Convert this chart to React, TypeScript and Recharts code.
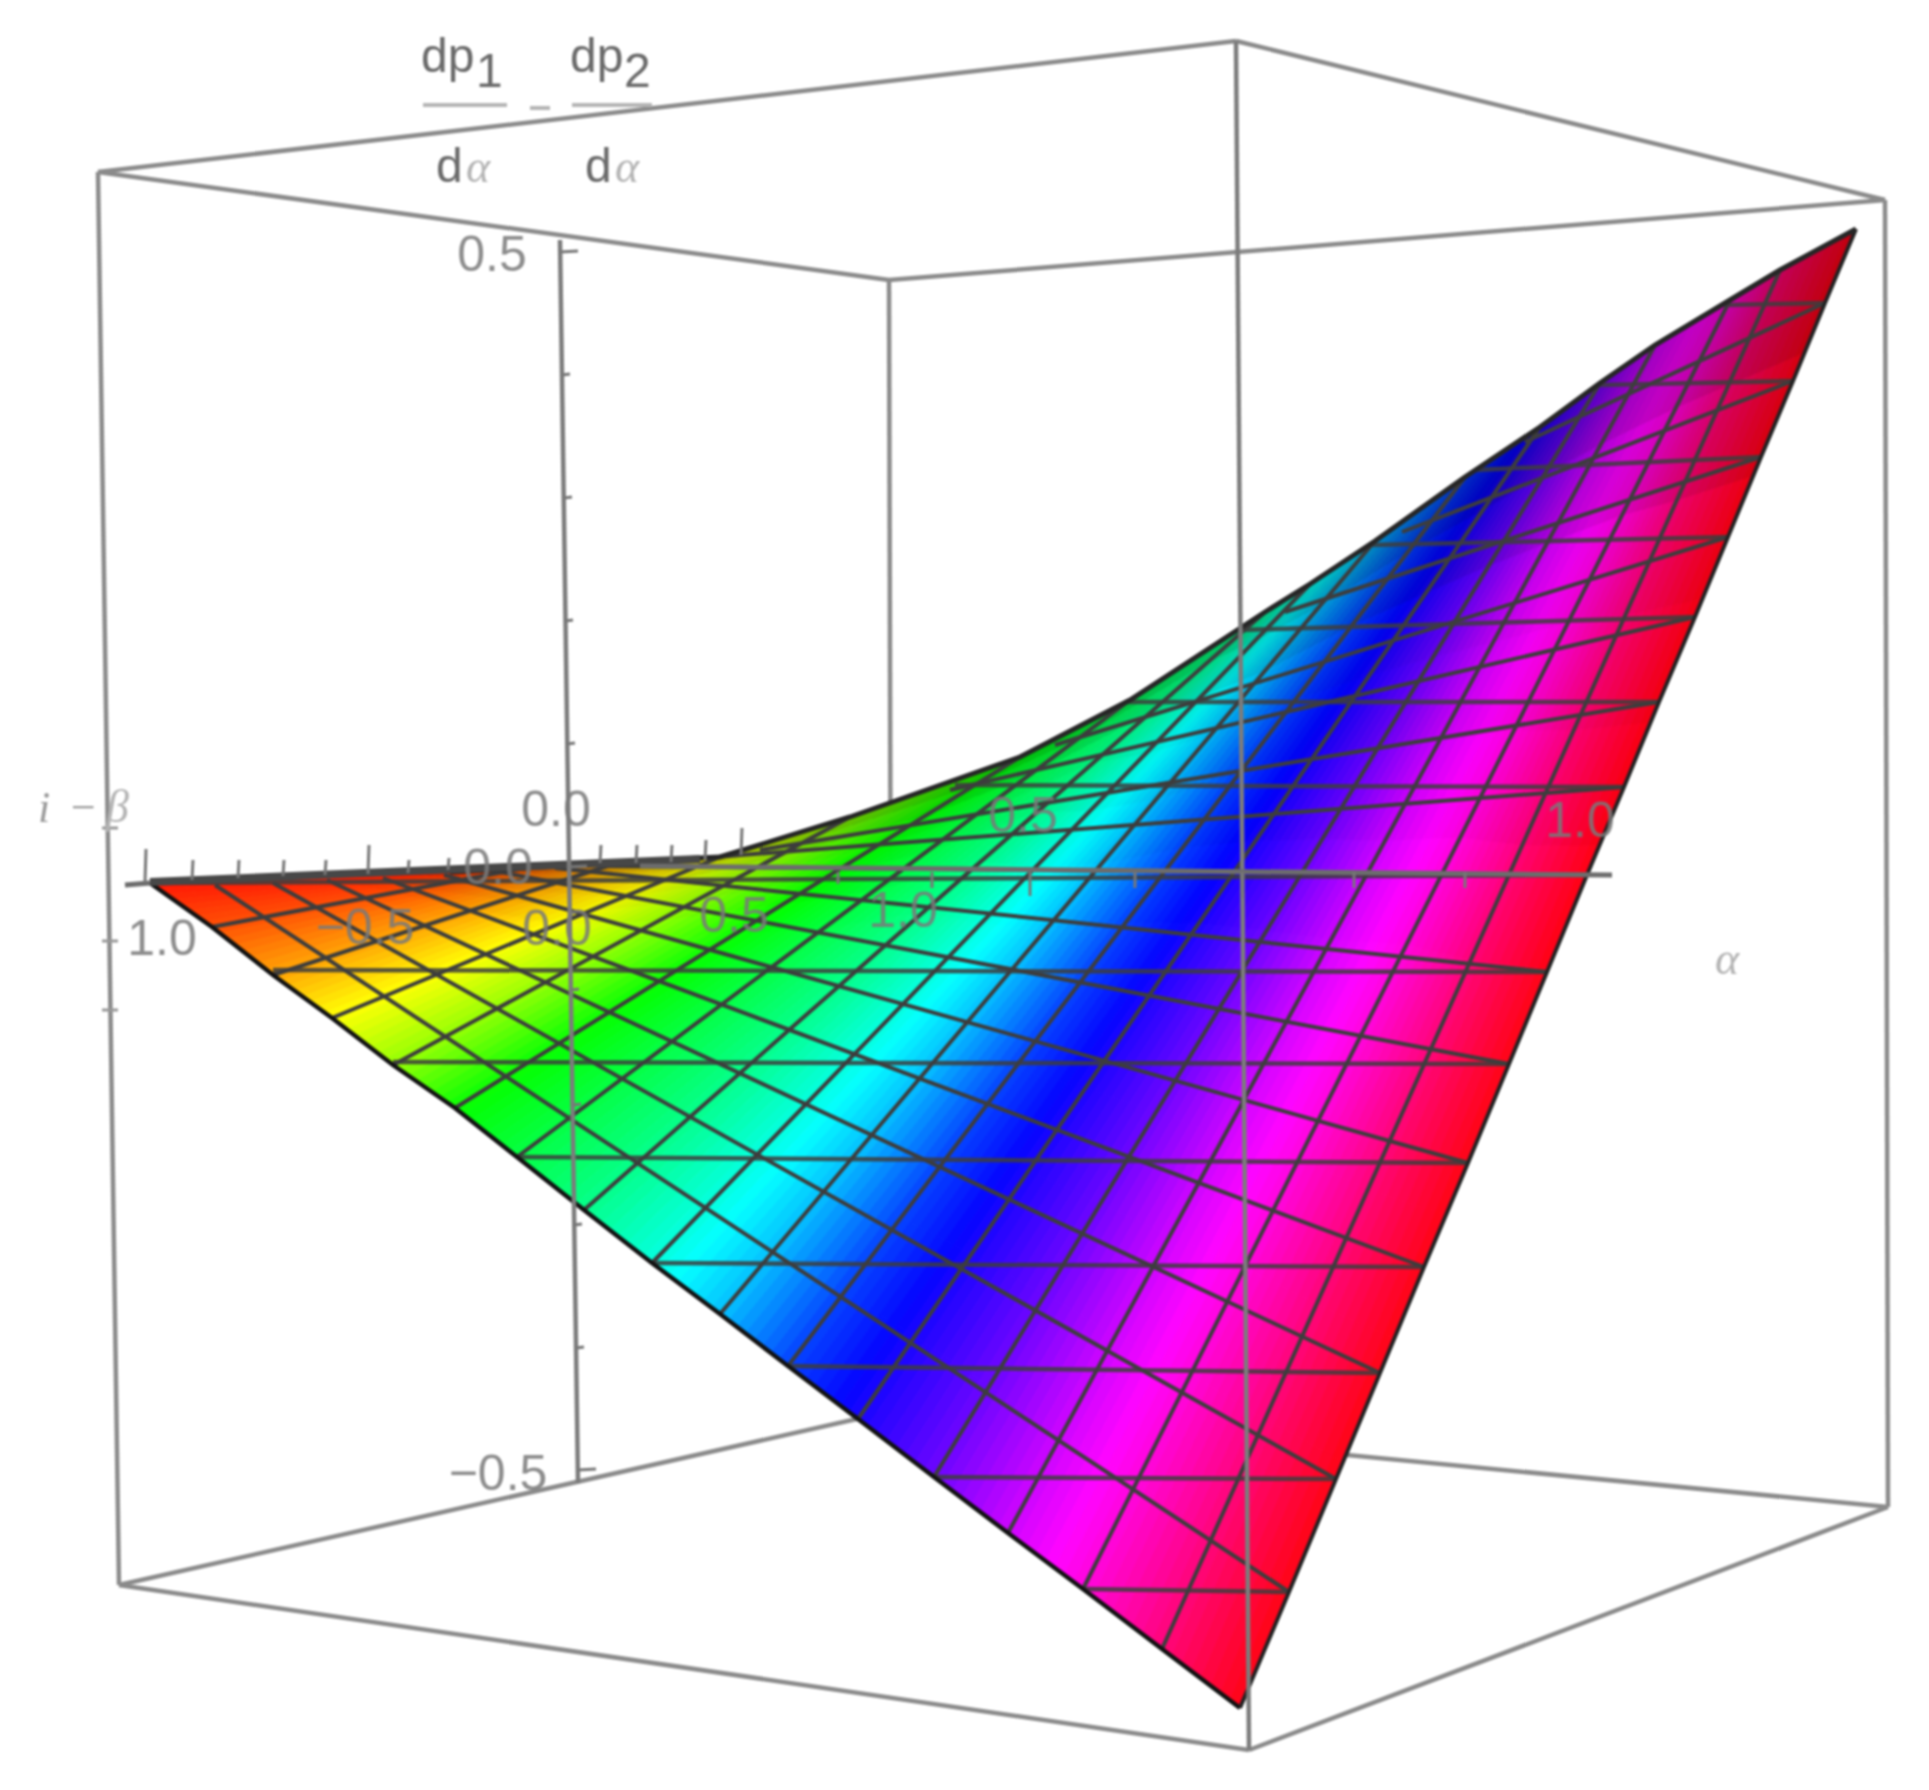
import React from 'react';
import { ComposedChart, Line, Scatter, XAxis, YAxis } from 'recharts';

const W = 1929;
const H = 1790;

// Projected picture-plane readings of the surface (17 mesh lines each way)
const lowerEdgeX = [150, 212, 273, 332, 393, 455, 517, 584, 652, 720, 788, 858, 934, 1008, 1083, 1162, 1240];
const lowerEdgeY = [883, 927, 975, 1018, 1065, 1108, 1157, 1210, 1263, 1314, 1366, 1419, 1477, 1533, 1589, 1649, 1708];
const upperEdgeX = [450, 525, 620, 720, 850, 1020, 1130, 1265, 1310, 1375, 1465, 1540, 1600, 1655, 1730, 1780, 1856];
const upperEdgeY = [872, 868, 862, 857, 817, 757, 700, 612, 584, 541, 477, 427, 383, 345, 300, 270, 229];
const rightEdgeX = [1240, 1289, 1336, 1380, 1424, 1468, 1509, 1547, 1587, 1624, 1659, 1695, 1728, 1761, 1793, 1825, 1856];
const rightEdgeY = [1708, 1592, 1479, 1373, 1267, 1163, 1064, 972, 875, 787, 702, 617, 537, 457, 381, 303, 229];
// far ends of the mesh lines that start on the right edge (index 1..15)
const crossEndX = [215, 273, 327, 383, 444, 500, 555, 605, 600, 760, 950, 1055, 1285, 1402, 1525];
const crossEndY = [885, 883, 880, 878, 875, 872, 868, 866, 866, 850, 790, 745, 612, 532, 442];
// far ends of the level lines that start on the right edge (index 1..15)
const levelEndX = [1083, 934, 788, 652, 517, 393, 273, 150, 955, 1125, 1240, 1370, 1475, 1600, 1725];
const levelEndY = [1589, 1477, 1366, 1263, 1157, 1062, 970, 883, 785, 702, 630, 545, 470, 385, 305];
// hue carried by each of the 17 mesh lines running from the lower edge to the upper edge
const meshHue = [4, 18, 38, 60, 85, 118, 135, 152, 172, 195, 225, 245, 265, 288, 308, 332, 356];

// Box
const boxBackX = [[98, 119], [889, 892], [1885, 1888], [119, 892], [892, 1888], [1249, 1888]];
const boxBackY = [[172, 1585], [280, 1411], [200, 1507], [1585, 1411], [1411, 1507], [1750, 1507]];
const boxTopX = [[98, 1236], [1236, 1885], [889, 1885], [98, 889], [119, 1249]];
const boxTopY = [[172, 41], [41, 200], [280, 200], [172, 280], [1585, 1750]];
const frontEdgeX = [1236, 1249];
const frontEdgeY = [41, 1750];
const sideAxisX = [560, 578];
const sideAxisY = [240, 1483];
const floorAxisX = [[125, 150], [640, 1612]];
const floorAxisY = [[885, 883], [866, 875]];
const darkRimX = [150, 700];
const darkRimY = [882, 859];

// Ticks
const sideTickX = [560, 562, 564, 565, 567, 569, 571, 573, 574, 576, 578];
const sideTickY = [252, 375, 498, 621, 744, 867, 990, 1105, 1225, 1348, 1470];
const sideTickLong = [1, 0, 0, 0, 0, 1, 0, 0, 0, 0, 1];
const upTickX = [145, 192, 238, 283, 325, 368, 408, 448, 600, 636, 671, 705, 741];
const upTickBase = [882, 880, 878, 876, 875, 874, 873, 870, 863, 863, 862, 860, 855];
const upTickTop = [849, 860, 860, 860, 860, 845, 860, 858, 845, 845, 845, 840, 828];
const downTickX = [838, 932, 1030, 1135, 1242, 1354, 1465];
const downTickEnd = [884, 888, 896, 888, 898, 888, 888];
const leftTickY = [828, 941, 1010];

// Text
const numberTexts = ['0.5', '\u22120.5', '1.0', '0.0', '0.0', '\u22120.5', '0.0', '0.5', '1.0', '0.5', '1.0'];
const numberX = [492, 498, 162, 556, 498, 365, 557, 734, 903, 1023, 1580];
const numberY = [254, 1473, 938, 809, 867, 927, 928, 915, 910, 815, 820];
const titleTexts = ['dp', 'dp', 'd', 'd'];
const titleX = [421, 570, 436, 585];
const titleY = [72, 72, 182, 182];
const subTexts = ['1', '2'];
const subX = [476, 624];
const subY = [87, 87];
const greekTexts = ['\u03B1', '\u03B1', '\u03B1', '\u03B2'];
const greekX = [466, 615, 1715, 106];
const greekY = [182, 182, 974, 822];
const minusTexts = ['i', '\u2212'];
const minusX = [38, 68];
const minusY = [822, 822];
const fractionBarX = [[423, 507], [572, 652], [530, 550]];
const fractionBarY = [105, 105, 108];

const rows = (xs: number[], ys: number[]) => xs.map((x, i) => ({ x, y: ys[i] }));

const mix = (a: number, b: number, t: number) => a + (b - a) * t;

const strips = lowerEdgeX.slice(0, -1).map((x, i) => ({
  x,
  y: lowerEdgeY[i],
  ax: x, ay: lowerEdgeY[i], bx: upperEdgeX[i], by: upperEdgeY[i],
  cx2: lowerEdgeX[i + 1], cy2: lowerEdgeY[i + 1], dx2: upperEdgeX[i + 1], dy2: upperEdgeY[i + 1],
  h0: meshHue[i], h1: meshHue[i + 1],
}));

const ACROSS = 8;
const ALONG = 12;
const lightAt = (t: number) => (t < 0.5 ? 51 : t < 0.8 ? mix(51, 46, (t - 0.5) / 0.3) : mix(46, 36, (t - 0.8) / 0.2));

const StripShape = (props: any) => {
  const { cx, cy, payload: p } = props;
  if (cx == null || !p) return null;
  const ox = cx - p.x;
  const oy = cy - p.y;
  const out: React.ReactNode[] = [];
  for (let s = 0; s < ACROSS; s++) {
    const s0 = s / ACROSS;
    const s1 = (s + 1) / ACROSS;
    const hue = mix(p.h0, p.h1, (s + 0.5) / ACROSS);
    for (let a = 0; a < ALONG; a++) {
      const t0 = a / ALONG;
      const t1 = (a + 1) / ALONG;
      const pt = (sv: number, tv: number) => {
        const lx = mix(p.ax, p.cx2, sv);
        const ly = mix(p.ay, p.cy2, sv);
        const ux = mix(p.bx, p.dx2, sv);
        const uy = mix(p.by, p.dy2, sv);
        return `${mix(lx, ux, tv) + ox},${mix(ly, uy, tv) + oy}`;
      };
      const col = `hsl(${hue},100%,${lightAt((t0 + t1) / 2)}%)`;
      out.push(
        <polygon
          key={`${s}-${a}`}
          points={[pt(s0, t0), pt(s1, t0), pt(s1, t1), pt(s0, t1)].join(' ')}
          fill={col}
          stroke={col}
          strokeWidth={1}
        />,
      );
    }
  }
  return <g>{out}</g>;
};

const textShape = (fontSize: number, fill: string, family: string, anchor: string, italic = false, opacity = 1) => (props: any) => {
  const { cx, cy, payload } = props;
  if (cx == null) return null;
  return (
    <text
      x={cx}
      y={cy}
      fontSize={fontSize}
      fill={fill}
      fontFamily={family}
      fontStyle={italic ? 'italic' : 'normal'}
      textAnchor={anchor}
      dominantBaseline={anchor === 'middle' ? 'central' : 'auto'}
      opacity={opacity}
    >
      {payload.label}
    </text>
  );
};

const labelled = (t: string[], xs: number[], ys: number[]) => t.map((label, i) => ({ label, x: xs[i], y: ys[i] }));

const seg = (
  key: string,
  data: { x: number; y: number }[],
  stroke: string,
  width: number,
  z: number,
  opacity = 1,
) => (
  <Line
    key={key}
    data={data}
    dataKey="y"
    stroke={stroke}
    strokeWidth={width}
    strokeOpacity={opacity}
    dot={false}
    activeDot={false}
    isAnimationActive={false}
    legendType="none"
    {...({ zIndex: z } as any)}
  />
);

const GRID = '#8b8b8b';
const MESH = '#3d3d3d';
const TICK = '#777777';

export default function App() {
  return (
    <div style={{ position: 'absolute', left: 0, top: 0, width: W, height: H, background: '#fff', filter: 'blur(0.9px)' }}>
      <ComposedChart width={W} height={H} margin={{ top: 0, right: 0, bottom: 0, left: 0 }}>
        <XAxis dataKey="x" type="number" domain={[0, W]} hide allowDataOverflow />
        <YAxis dataKey="y" type="number" domain={[0, H]} reversed hide allowDataOverflow />

        {boxBackX.map((xs, i) => seg(`back${i}`, rows(xs, boxBackY[i]), GRID, 4.5, 100))}

        <Scatter
          data={strips}
          shape={StripShape}
          isAnimationActive={false}
          legendType="none"
          {...({ zIndex: 200 } as any)}
        />

        {lowerEdgeX.slice(1, -1).map((x, i) =>
          seg(`along${i}`, rows([x, upperEdgeX[i + 1]], [lowerEdgeY[i + 1], upperEdgeY[i + 1]]), MESH, 4, 300),
        )}
        {crossEndX.map((x, i) =>
          seg(`cross${i}`, rows([rightEdgeX[i + 1], x], [rightEdgeY[i + 1], crossEndY[i]]), MESH, 4, 300),
        )}
        {levelEndX.map((x, i) =>
          seg(`level${i}`, rows([rightEdgeX[i + 1], x], [rightEdgeY[i + 1], levelEndY[i]]), MESH, 4.5, 300, 0.85),
        )}
        {seg('edgeLower', rows(lowerEdgeX, lowerEdgeY), '#111111', 4.5, 310)}
        {seg('edgeRight', rows(rightEdgeX, rightEdgeY), '#222222', 4, 310)}
        {seg('edgeUpper', rows(upperEdgeX, upperEdgeY), '#262626', 5, 310)}
        {seg('rim', rows(darkRimX, darkRimY), '#474747', 8, 310)}

        {boxTopX.map((xs, i) => seg(`top${i}`, rows(xs, boxTopY[i]), GRID, 4.5, 320))}
        {seg('frontEdge', rows(frontEdgeX, frontEdgeY), '#7c7c7c', 4.5, 330)}
        {seg('sideAxis', rows(sideAxisX, sideAxisY), '#7c7c7c', 4.5, 330)}
        {floorAxisX.map((xs, i) => seg(`floor${i}`, rows(xs, floorAxisY[i]), '#6d6d6d', 5, 330))}

        {sideTickX.map((x, i) =>
          seg(`st${i}`, rows([x, x + (sideTickLong[i] ? 18 : 8)], [sideTickY[i], sideTickY[i] - 1]), TICK, 3, 340),
        )}
        {upTickX.map((x, i) => seg(`ut${i}`, rows([x, x + 1], [upTickBase[i], upTickTop[i]]), TICK, 3, 340))}
        {downTickX.map((x, i) => seg(`dt${i}`, rows([x, x], [872, downTickEnd[i]]), TICK, 3, 340))}
        {leftTickY.map((y, i) => seg(`lt${i}`, rows([102, 118], [y, y]), '#999999', 3, 340))}
        {fractionBarX.map((xs, i) => seg(`bar${i}`, rows(xs, [fractionBarY[i], fractionBarY[i]]), '#b5b5b5', 4, 340))}

        <Scatter data={labelled(numberTexts, numberX, numberY)} shape={textShape(50, '#7a7a7a', '"Liberation Sans", sans-serif', 'middle', false, 0.85)} isAnimationActive={false} legendType="none" {...({ zIndex: 400 } as any)} />
        <Scatter data={labelled(titleTexts, titleX, titleY)} shape={textShape(48, '#6a6a6a', '"Liberation Sans", sans-serif', 'start')} isAnimationActive={false} legendType="none" {...({ zIndex: 400 } as any)} />
        <Scatter data={labelled(subTexts, subX, subY)} shape={textShape(48, '#6a6a6a', '"Liberation Sans", sans-serif', 'start')} isAnimationActive={false} legendType="none" {...({ zIndex: 400 } as any)} />
        <Scatter data={labelled(greekTexts, greekX, greekY)} shape={textShape(46, '#b4b4b4', '"Liberation Serif", serif', 'start', true)} isAnimationActive={false} legendType="none" {...({ zIndex: 400 } as any)} />
        <Scatter data={labelled(minusTexts, minusX, minusY)} shape={textShape(44, '#9a9a9a', '"Liberation Serif", serif', 'start', true)} isAnimationActive={false} legendType="none" {...({ zIndex: 400 } as any)} />
      </ComposedChart>
    </div>
  );
}
